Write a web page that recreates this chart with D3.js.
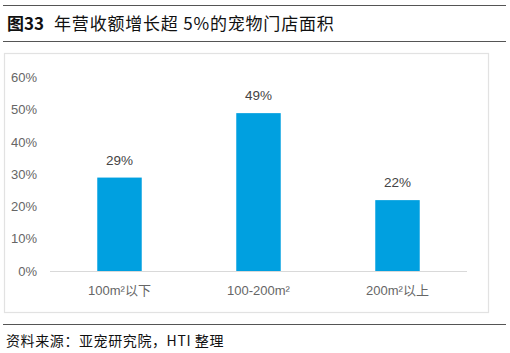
<!DOCTYPE html>
<html>
<head>
<meta charset="utf-8">
<script src="https://cdn.jsdelivr.net/npm/d3@7"></script>
<style>
  body { margin: 0; background: #fff; }
  svg text { font-family: "Liberation Sans", Arial, "Noto Sans CJK SC", sans-serif; }
</style>
</head>
<body>
<div id="chart"></div>
<script>
// data
var categories = ["100m²以下", "100-200m²", "200m²以上"];
var values = [0.29, 0.49, 0.22];
var tickValues = [0, 0.1, 0.2, 0.3, 0.4, 0.5, 0.6];

var w = 510, h = 353;
var svg = d3.select("#chart").append("svg").attr("width", w).attr("height", h);

// header rules and title
svg.append("line").attr("x1", 3).attr("x2", 506).attr("y1", 5.5).attr("y2", 5.5).attr("stroke", "#555").attr("stroke-width", 1.2);
svg.append("line").attr("x1", 3).attr("x2", 506).attr("y1", 41.5).attr("y2", 41.5).attr("stroke", "#555").attr("stroke-width", 1.2);
var title = svg.append("text").attr("x", 7).attr("y", 30).style("font-size", "17px").style("fill", "#111")
  .style("font-family", "'Noto Sans CJK SC', sans-serif");
title.append("tspan").style("font-weight", "bold").text("图33");
title.append("tspan").attr("dx", 10).style("letter-spacing", "0.8px").text("年营收额增长超 5%的宠物门店面积");

// frame
svg.append("rect").attr("x", 4.5).attr("y", 53.5).attr("width", 484).attr("height", 259)
  .attr("fill", "none").attr("stroke", "#e2e2e2").attr("stroke-width", 1.2);

// scales
var x = d3.scaleBand().domain(categories).range([50, 467]).paddingInner(0.68).paddingOuter(0.34);
var y = d3.scaleLinear().domain([0, 0.6]).range([271, 77.7]);

// y axis labels
svg.selectAll(".ytick").data(tickValues).enter().append("text").attr("class", "ytick")
  .attr("x", 37).attr("y", function(d) { return y(d); }).attr("dy", "0.35em")
  .attr("text-anchor", "end").style("font-size", "13px").style("fill", "#666")
  .text(function(d) { return d3.format(".0%")(d); });

// bars
svg.selectAll("rect.bar").data(values).enter().append("rect").attr("class", "bar")
  .attr("x", function(d, i) { return x(categories[i]); })
  .attr("y", function(d) { return y(d); })
  .attr("width", x.bandwidth())
  .attr("height", function(d) { return y(0) - y(d); })
  .attr("fill", "#00a0e0");

// value labels
svg.selectAll(".vlabel").data(values).enter().append("text").attr("class", "vlabel")
  .attr("x", function(d, i) { return x(categories[i]) + x.bandwidth() / 2; })
  .attr("y", function(d) { return y(d) - 13; })
  .attr("text-anchor", "middle").style("font-size", "13.5px").style("fill", "#444")
  .text(function(d) { return d3.format(".0%")(d); });

// x baseline
svg.append("line").attr("x1", 50).attr("x2", 467).attr("y1", y(0) + 0.5).attr("y2", y(0) + 0.5)
  .attr("stroke", "#d9d9d9").attr("stroke-width", 1);

// x axis labels
var xAxis = d3.axisBottom(x).tickSize(0).tickPadding(0);
var gx = svg.append("g").attr("transform", "translate(0," + (y(0) + 24) + ")").call(xAxis);
gx.select(".domain").remove();
gx.selectAll("text").attr("dy", 0).style("font-size", "13px").style("fill", "#666")
  .style("font-family", "'Liberation Sans', 'Noto Sans CJK SC', sans-serif");

// footer
svg.append("line").attr("x1", 3).attr("x2", 506).attr("y1", 324.5).attr("y2", 324.5).attr("stroke", "#555").attr("stroke-width", 1.2);
svg.append("text").attr("x", 6).attr("y", 346).style("font-size", "14px").style("fill", "#111")
  .style("letter-spacing", "0.6px")
  .style("font-family", "'Noto Sans CJK SC', sans-serif")
  .text("资料来源：亚宠研究院，HTI 整理");
</script>
</body>
</html>
